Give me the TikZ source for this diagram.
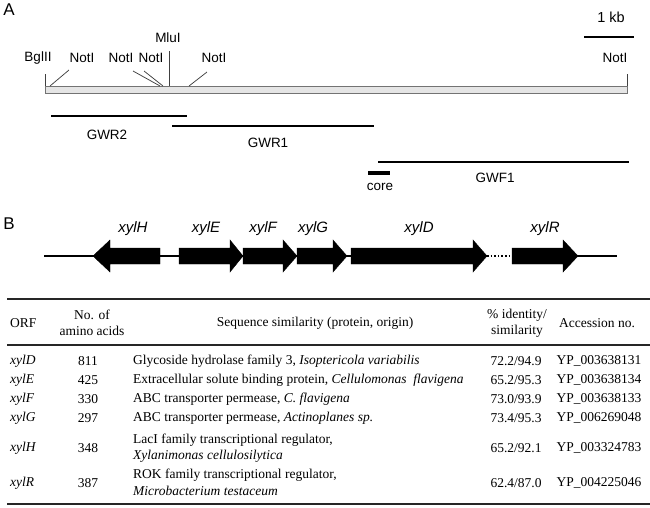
\documentclass[tikz,border=0pt]{standalone}
\usepackage{fontspec}
\setmainfont{Liberation Serif}
\newfontfamily\arialf{Liberation Sans}
\begin{document}
\begin{tikzpicture}[x=1pt,y=-1pt,
  sanslbl/.style={font=\arialf\fontsize{13.5}{15}\selectfont, inner sep=0pt},
  panellbl/.style={font=\arialf\fontsize{17}{19}\selectfont, inner sep=0pt},
  genelbl/.style={font=\arialf\itshape\fontsize{15}{16}\selectfont, inner sep=0pt},
  site/.style={draw=black!75, line width=0.75pt},
  frag/.style={draw=black, line width=2pt},
  gene/.style={fill=black, draw=black, line width=0.4pt},
  tcell/.style={font=\fontsize{13.5}{15}\selectfont, inner sep=0pt},
  tcellL/.style={tcell, anchor=west},
  rulethin/.style={draw=black!85, line width=1.3pt},
  rulethick/.style={draw=black!85, line width=2.6pt}]
\useasboundingbox (0,0) rectangle (650,507);

% ---------------- Panel A ----------------
\node[panellbl] (A) at (9,10) {A};
\node[sanslbl, font=\arialf\fontsize{14.5}{16}\selectfont] (kb) at (611,17) {1 kb};
\coordinate (kbL) at (584,37); \coordinate (kbR) at (634,37);
\draw[line width=2pt] (kbL) -- (kbR);

\node[draw=black!55, fill=black!10, line width=0.7pt, minimum width=582pt, minimum height=7pt, inner sep=0pt, anchor=north west] (bar) at (45,86) {};

% restriction sites
\node[sanslbl] (bgl) at (38,58) {BglII};
\coordinate (bglT) at (45,74); \coordinate (bglB) at (45,86);
\draw[site] (bglT) -- (bglB);

\node[sanslbl] (n1) at (82,58) {NotI};
\coordinate (n1a) at (69,70); \coordinate (n1b) at (50,86);
\draw[site] (n1a) -- (n1b);

\node[sanslbl] (n2) at (121,58) {NotI};
\coordinate (n2a) at (133,71); \coordinate (n2b) at (160,86);
\draw[site] (n2a) -- (n2b);

\node[sanslbl] (n3) at (151,58) {NotI};
\coordinate (n3a) at (144,71); \coordinate (n3b) at (163,86);
\draw[site] (n3a) -- (n3b);

\node[sanslbl] (mlu) at (168,38) {MluI};
\coordinate (mluT) at (169,51); \coordinate (mluB) at (169,86);
\draw[site] (mluT) -- (mluB);

\node[sanslbl] (n4) at (214,58) {NotI};
\coordinate (n4a) at (207,72); \coordinate (n4b) at (189,86);
\draw[site] (n4a) -- (n4b);

\node[sanslbl] (n5) at (615,58) {NotI};
\coordinate (n5T) at (627,74); \coordinate (n5B) at (627,86);
\draw[site] (n5T) -- (n5B);

% fragments
\coordinate (g2a) at (51,116); \coordinate (g2b) at (187,116);
\draw[frag] (g2a) -- (g2b);
\node[sanslbl] (gwr2) at (107,135) {GWR2};

\coordinate (g1a) at (172,126); \coordinate (g1b) at (374,126);
\draw[frag] (g1a) -- (g1b);
\node[sanslbl] (gwr1) at (268,143) {GWR1};

\coordinate (f1a) at (378,162); \coordinate (f1b) at (629,162);
\draw[frag] (f1a) -- (f1b);
\node[sanslbl] (gwf1) at (495,178) {GWF1};

\coordinate (ca) at (368,173); \coordinate (cb) at (390,173);
\draw[line width=4.5pt] (ca) -- (cb);
\node[sanslbl] (core) at (380,187) {core};

% ---------------- Panel B ----------------
\node[panellbl] (B) at (9,224) {B};

\coordinate (bbL) at (44,256); \coordinate (bbR) at (617,256);
\coordinate (dotL) at (487,256); \coordinate (dotR) at (512,256);
\draw[line width=1.3pt] (bbL) -- (dotL);
\draw[line width=1.6pt, dotted] (dotL) -- (dotR);
\draw[line width=1.3pt] (dotR) -- (bbR);

% gene arrows (shaft y 248..264, head y 240..272)
\draw[gene] (160,248) -- (110,248) -- (110,240) -- (93,256) -- (110,272) -- (110,264) -- (160,264) -- cycle;
\draw[gene] (179,248) -- (230,248) -- (230,240) -- (243,256) -- (230,272) -- (230,264) -- (179,264) -- cycle;
\draw[gene] (243,248) -- (283,248) -- (283,240) -- (297,256) -- (283,272) -- (283,264) -- (243,264) -- cycle;
\draw[gene] (297,248) -- (333,248) -- (333,240) -- (347,256) -- (333,272) -- (333,264) -- (297,264) -- cycle;
\draw[gene] (351,248) -- (473,248) -- (473,240) -- (487,256) -- (473,272) -- (473,264) -- (351,264) -- cycle;
\draw[gene] (512,248) -- (563,248) -- (563,240) -- (578,256) -- (563,272) -- (563,264) -- (512,264) -- cycle;

\node[genelbl] (lH) at (133,229) {xylH};
\node[genelbl] (lE) at (206,229) {xylE};
\node[genelbl] (lF) at (263,229) {xylF};
\node[genelbl] (lG) at (313,229) {xylG};
\node[genelbl] (lD) at (419,229) {xylD};
\node[genelbl] (lR) at (545,229) {xylR};

% ---------------- Table ----------------
\coordinate (tTL) at (7,299); \coordinate (tTR) at (650,299);
\coordinate (tHL) at (7,345); \coordinate (tHR) at (650,345);
\coordinate (tBL) at (7,504); \coordinate (tBR) at (650,504);
\draw[rulethin] (tTL) -- (tTR);
\draw[rulethin] (tHL) -- (tHR);
\draw[rulethick] (tBL) -- (tBR);

\node[tcellL] (hORF) at (10,323) {ORF};
\node[tcell] (hNo1) at (92,315) {No. of};
\node[tcell] (hNo2) at (92,331) {amino acids};
\node[tcell] (hSeq) at (315,323) {Sequence similarity (protein, origin)};
\node[tcell] (hId1) at (517,315) {\% identity/};
\node[tcell] (hId2) at (517,331) {similarity};
\node[tcell] (hAcc) at (597,323) {Accession no.};

% rows
\node[tcellL] (o1) at (10,361) {\itshape xylD};
\node[tcell] (a1) at (88,361) {811};
\node[tcellL] (s1) at (133,361) {Glycoside hydrolase family 3, \textit{Isoptericola variabilis}};
\node[tcell] (i1) at (516,361) {72.2/94.9};
\node[tcell] (c1) at (599,361) {YP\_003638131};

\node[tcellL] (o2) at (10,380) {\itshape xylE};
\node[tcell] (a2) at (88,380) {425};
\node[tcellL] (s2) at (133,380) {Extracellular solute binding protein, \textit{Cellulomonas\ \ flavigena}};
\node[tcell] (i2) at (516,380) {65.2/95.3};
\node[tcell] (c2) at (599,380) {YP\_003638134};

\node[tcellL] (o3) at (10,399) {\itshape xylF};
\node[tcell] (a3) at (88,399) {330};
\node[tcellL] (s3) at (133,399) {ABC transporter permease, \textit{C. flavigena}};
\node[tcell] (i3) at (516,399) {73.0/93.9};
\node[tcell] (c3) at (599,399) {YP\_003638133};

\node[tcellL] (o4) at (10,418) {\itshape xylG};
\node[tcell] (a4) at (88,418) {297};
\node[tcellL] (s4) at (133,418) {ABC transporter permease, \textit{Actinoplanes sp.}};
\node[tcell] (i4) at (516,418) {73.4/95.3};
\node[tcell] (c4) at (599,418) {YP\_006269048};

\node[tcellL] (o5) at (10,448) {\itshape xylH};
\node[tcell] (a5) at (88,448) {348};
\node[tcellL] (s5a) at (133,440) {LacI family transcriptional regulator,};
\node[tcellL] (s5b) at (133,456) {\itshape Xylanimonas cellulosilytica};
\node[tcell] (i5) at (516,448) {65.2/92.1};
\node[tcell] (c5) at (599,448) {YP\_003324783};

\node[tcellL] (o6) at (10,483) {\itshape xylR};
\node[tcell] (a6) at (88,483) {387};
\node[tcellL] (s6a) at (133,475) {ROK family transcriptional regulator,};
\node[tcellL] (s6b) at (133,491) {\itshape Microbacterium testaceum};
\node[tcell] (i6) at (516,483) {62.4/87.0};
\node[tcell] (c6) at (599,483) {YP\_004225046};
\end{tikzpicture}
\end{document}
